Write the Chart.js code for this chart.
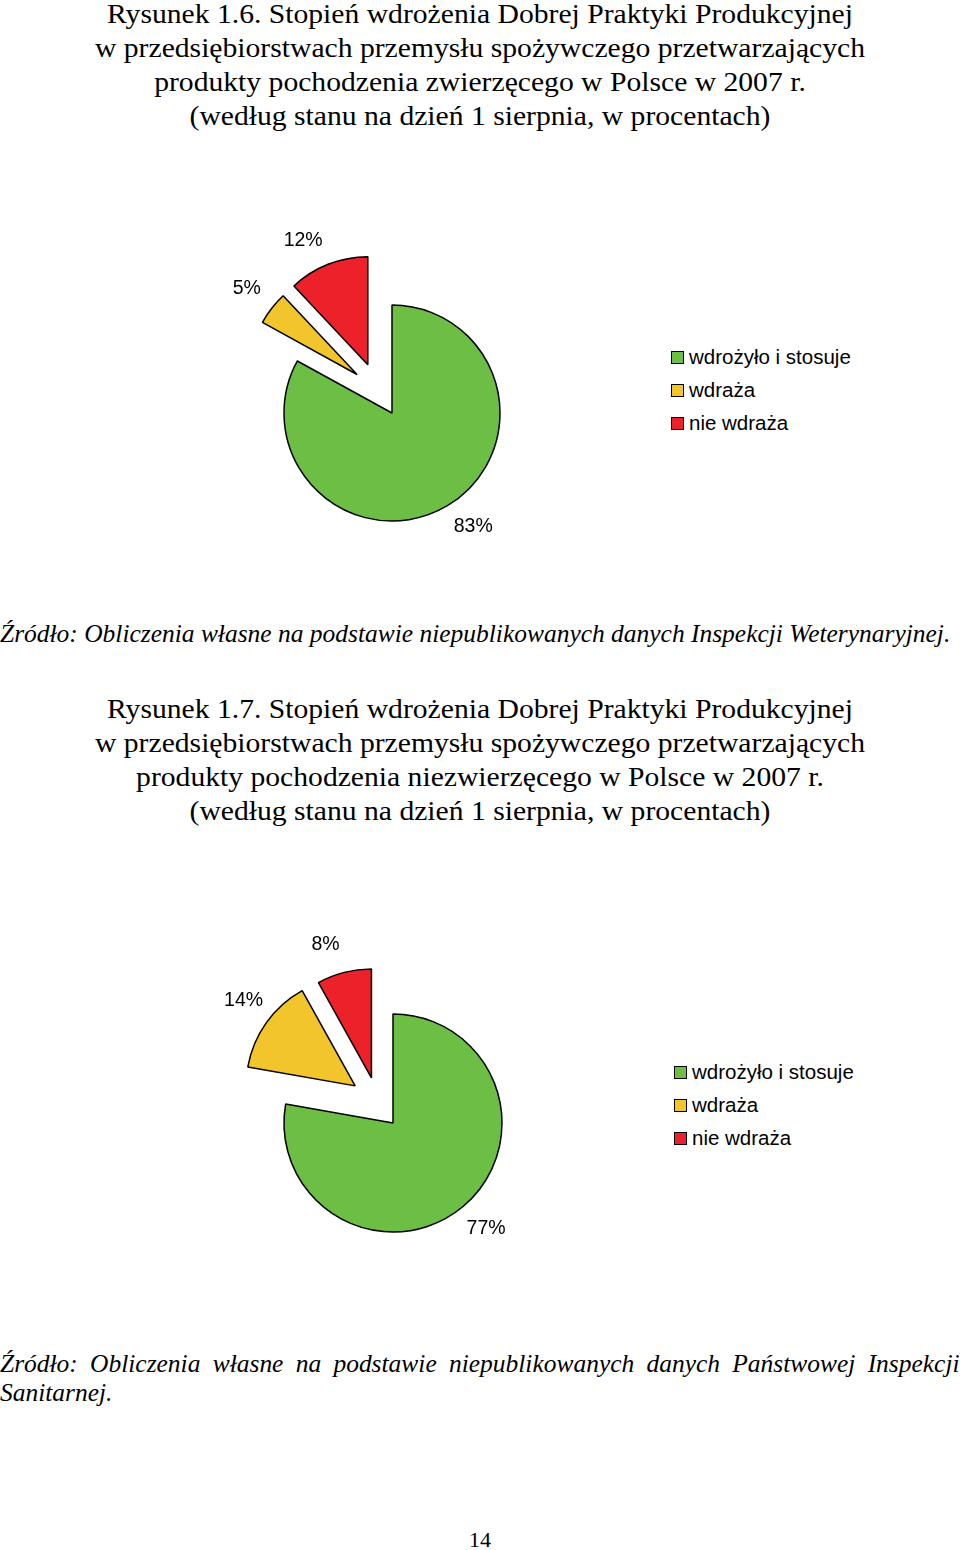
<!DOCTYPE html>
<html><head><meta charset="utf-8">
<script src="https://cdn.jsdelivr.net/npm/chart.js@4.4.0/dist/chart.umd.min.js"></script>
<style>
html,body{margin:0;padding:0;background:#fff;}
body{width:960px;height:1550px;position:relative;overflow:hidden;font-family:"Liberation Serif","Times New Roman",serif;color:#000;}
.title{position:absolute;left:0;width:960px;text-align:center;font-size:27px;line-height:34px;transform-origin:480px 50%;}
.src{position:absolute;left:0;font-style:italic;font-size:26px;line-height:29px;white-space:nowrap;transform-origin:0 50%;}
.legend{position:absolute;font-family:"Liberation Sans",Arial,sans-serif;font-size:20.5px;}
.legend div{height:33px;line-height:33px;position:relative;padding-left:18px;white-space:nowrap;}
.legend i{position:absolute;left:0;top:50%;width:11px;height:11px;margin-top:-6px;border:1px solid #000;}
canvas{position:absolute;}
.page{position:absolute;left:0;width:960px;text-align:center;font-size:22px;top:1527px;}
</style></head>
<body>
<div class="title" id="t1" style="top:-3px">Rysunek 1.6. Stopień wdrożenia Dobrej Praktyki Produkcyjnej<br>w przedsiębiorstwach przemysłu spożywczego przetwarzających<br>produkty pochodzenia zwierzęcego w Polsce w 2007 r.<br>(według stanu na dzień 1 sierpnia, w procentach)</div>
<canvas id="c1" width="400" height="400" style="left:192px;top:213px"></canvas>
<div class="legend" id="lg1" style="left:671px;top:340px"></div>
<div class="src" id="s1" style="top:619px">Źródło: Obliczenia własne na podstawie niepublikowanych danych Inspekcji Weterynaryjnej.</div>

<div class="title" id="t2" style="top:692px">Rysunek 1.7. Stopień wdrożenia Dobrej Praktyki Produkcyjnej<br>w przedsiębiorstwach przemysłu spożywczego przetwarzających<br>produkty pochodzenia niezwierzęcego w Polsce w 2007 r.<br>(według stanu na dzień 1 sierpnia, w procentach)</div>
<canvas id="c2" width="400" height="400" style="left:193px;top:923px"></canvas>
<div class="legend" id="lg2" style="left:674px;top:1055px"></div>
<div class="src" id="s2a" style="top:1349px">Źródło: Obliczenia własne na podstawie niepublikowanych danych Państwowej Inspekcji</div>
<div class="src" id="s2b" style="top:1378px">Sanitarnej.</div>
<div class="page">14</div>
<script>
const categories = ['wdrożyło i stosuje', 'wdraża', 'nie wdraża'];
const values1 = [83, 5, 12];
const values2 = [77, 14, 8];
const sliceColors = ['#6cbe45', '#f2c52c', '#ec2129'];
// explode style: distance (px), direction tweak (deg), label angle tweak (deg)
const explode1 = { dist: [0, 52, 54], dirTweak: [0, 10, -5], labelTweak: [-5, 0, -6] };
const explode2 = { dist: [0, 53, 50], dirTweak: [0, 9, -11], labelTweak: [-1.5, 2, -4.5] };

const explodePlugin = {
  id: 'explode',
  beforeDatasetsDraw(chart) {
    const meta = chart.getDatasetMeta(0);
    const ex = chart.options.plugins.explode.cfg;
    meta.data.forEach((arc, i) => {
      const d = ex.dist[i] || 0;
      const a = (arc.startAngle + arc.endAngle) / 2 + (ex.dirTweak[i] || 0) * Math.PI / 180;
      arc._dx = Math.cos(a) * d; arc._dy = Math.sin(a) * d;
      arc.x += arc._dx; arc.y += arc._dy;
    });
  },
  afterDatasetsDraw(chart) {
    const ctx = chart.ctx;
    const meta = chart.getDatasetMeta(0);
    const data = chart.data.datasets[0].data;
    const ex = chart.options.plugins.explode.cfg;
    const gap = chart.options.plugins.explode.labelGap;
    ctx.save();
    ctx.font = '19.5px "Liberation Sans", Arial, sans-serif';
    ctx.fillStyle = '#000';
    ctx.textAlign = 'center';
    ctx.textBaseline = 'middle';
    meta.data.forEach((arc, i) => {
      const mid = (arc.startAngle + arc.endAngle) / 2 + (ex.labelTweak[i] || 0) * Math.PI / 180;
      const r = arc.outerRadius + gap;
      ctx.fillText(data[i] + '%', arc.x + Math.cos(mid) * r, arc.y + Math.sin(mid) * r);
    });
    ctx.restore();
    meta.data.forEach(arc => { arc.x -= arc._dx; arc.y -= arc._dy; });
  }
};

function makePie(id, values, radius, cfg) {
  new Chart(document.getElementById(id), {
    type: 'pie',
    data: { labels: categories, datasets: [{ data: values, backgroundColor: sliceColors, borderColor: '#000', borderWidth: 1.5 }] },
    options: {
      responsive: false, animation: false, radius: radius,
      layout: { padding: 0 },
      plugins: { legend: { display: false }, tooltip: { enabled: false }, explode: { cfg: cfg, labelGap: 31.5 } }
    },
    plugins: [explodePlugin]
  });
}
makePie('c1', values1, 108, explode1);
makePie('c2', values2, 109, explode2);

function legend(id) {
  const el = document.getElementById(id);
  categories.forEach((c, i) => {
    const d = document.createElement('div');
    d.innerHTML = '<i style="background:' + sliceColors[i] + '"></i>' + c;
    el.appendChild(d);
  });
}
legend('lg1'); legend('lg2');

function lineWidth(el, idx) {
  const range = document.createRange();
  const nodes = Array.from(el.childNodes).filter(n => n.nodeType === 3);
  range.selectNodeContents(nodes[idx]);
  return range.getBoundingClientRect().width;
}
function fit() {
  ['t1', 't2'].forEach(id => {
    const t = document.getElementById(id);
    t.style.transform = 'none';
    const w = lineWidth(t, 0);
    t.style.transform = 'scaleX(' + (746 / w) + ')';
  });
  const s1 = document.getElementById('s1');
  s1.style.transform = 'none';
  const k = 950 / s1.scrollWidth;
  s1.style.transform = 'scaleX(' + k + ')';
  const a = document.getElementById('s2a');
  const b = document.getElementById('s2b');
  a.style.wordSpacing = '0px'; a.style.transform = 'none';
  const w = a.scrollWidth * k;
  const spaces = (a.textContent.match(/ /g) || []).length;
  a.style.wordSpacing = ((960 - w) / k / spaces) + 'px';
  a.style.transform = 'scaleX(' + k + ')';
  b.style.transform = 'scaleX(' + k + ')';
}
fit();
if (document.fonts) document.fonts.ready.then(fit);
</script>
</body></html>
